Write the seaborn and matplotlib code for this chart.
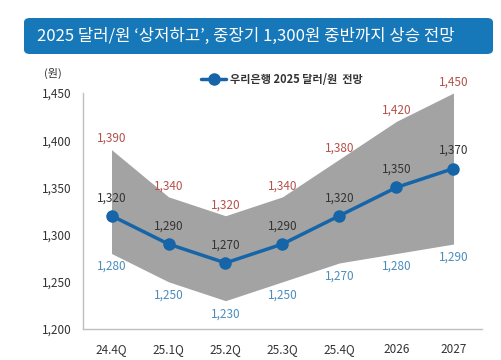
import numpy as np
import pandas as pd
import matplotlib
matplotlib.use("Agg")
import matplotlib.pyplot as plt
from matplotlib.patches import FancyBboxPatch
import seaborn as sns

# Data
periods = ["24.4Q", "25.1Q", "25.2Q", "25.3Q", "25.4Q", "2026", "2027"]
forecast = [1320, 1290, 1270, 1290, 1320, 1350, 1370]
upper = [1390, 1340, 1320, 1340, 1380, 1420, 1450]
lower = [1280, 1250, 1230, 1250, 1270, 1280, 1290]
y_ticks = [1200, 1250, 1300, 1350, 1400, 1450]

title = "2025 달러/원 \u2018상저하고\u2019, 중장기 1,300원 중반까지 상승 전망"
series_name = "우리은행 2025 달러/원  전망"

LINE = "#1565a8"
BAND = "#a3a3a3"
RED = "#b5504a"
BLUE = "#4a8cbc"
TXT = "#333333"
BANNER = "#1677b9"


def main():
    sns.set_style("white")
    plt.rcParams["font.family"] = ["Noto Sans CJK KR", "DejaVu Sans"]

    df = pd.DataFrame({"period": periods, "forecast": forecast,
                       "upper": upper, "lower": lower})
    df["x"] = np.arange(len(df))

    fig = plt.figure(figsize=(5.01, 3.6), dpi=100)
    ax = fig.add_axes([83 / 501, 1 - 329 / 360, (482 - 83) / 501, (329 - 93) / 360])

    # Range band
    ax.fill_between(df["x"], df["lower"], df["upper"], color=BAND, lw=0, zorder=1)

    # Forecast line
    sns.lineplot(data=df, x="x", y="forecast", ax=ax, color=LINE, lw=2.5,
                 marker="o", markersize=9, markeredgewidth=0, zorder=3,
                 label=series_name)

    # Value labels
    for _, r in df.iterrows():
        ax.annotate(f"{r['upper']:,}", (r["x"], r["upper"]), xytext=(0, 11),
                    textcoords="offset pixels", ha="center", va="center",
                    fontsize=8.5, color=RED)
        ax.annotate(f"{r['forecast']:,}", (r["x"], r["forecast"]), xytext=(0, 18),
                    textcoords="offset pixels", ha="center", va="center",
                    fontsize=8.5, color=TXT)
        ax.annotate(f"{r['lower']:,}", (r["x"], r["lower"]), xytext=(0, -13),
                    textcoords="offset pixels", ha="center", va="center",
                    fontsize=8.5, color=BLUE)

    ax.set_xlim(-0.5, len(periods) - 0.5)
    ax.set_ylim(1200, 1450)
    ax.set_xticks(df["x"])
    ax.set_xticklabels(periods)
    ax.set_xticks(np.arange(-0.5, len(periods)), minor=True)
    ax.set_yticks(y_ticks)
    ax.set_yticklabels([f"{v:,}" for v in y_ticks])
    ax.tick_params(axis="x", which="major", length=0, pad=10, labelsize=8.5, colors=TXT)
    ax.tick_params(axis="x", which="minor", length=4, color="#bfbfbf", direction="out")
    ax.tick_params(axis="y", length=4, color="#bfbfbf", pad=4, labelsize=8.5, labelcolor=TXT)
    ax.set_xlabel("")
    ax.set_ylabel("")

    for s in ["top", "right"]:
        ax.spines[s].set_visible(False)
    for s in ["left", "bottom"]:
        ax.spines[s].set_color("#bfbfbf")
        ax.spines[s].set_linewidth(1)

    leg = ax.legend(loc="lower left", bbox_to_anchor=(0.28, 1.0), frameon=False,
                    handlelength=2.2, handletextpad=0.4, borderaxespad=0.2,
                    prop={"weight": "bold", "size": 8})
    for t in leg.get_texts():
        t.set_color(TXT)

    fig.text(53 / 501, 1 - 73 / 360, "(원)", ha="center", va="center",
             fontsize=8, color=TXT)

    # Title banner
    banner = FancyBboxPatch((24 / 501, 1 - 54 / 360), (493 - 24) / 501, 36 / 360,
                            boxstyle="round,pad=0,rounding_size=0.012",
                            transform=fig.transFigure, facecolor=BANNER,
                            edgecolor="none")
    fig.patches.append(banner)
    fig.text(37 / 501, 1 - 36 / 360, title, ha="left", va="center",
             fontsize=12, color="white")

    fig.savefig("out.png", dpi=100)


if __name__ == "__main__":
    main()
